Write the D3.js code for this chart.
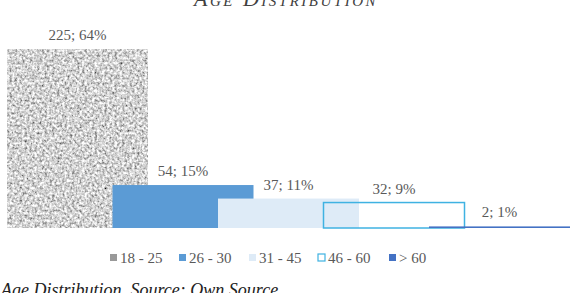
<!DOCTYPE html>
<html>
<head>
<meta charset="utf-8">
<script src="https://cdn.jsdelivr.net/npm/d3@7"></script>
<style>
    body { margin: 0; background: #fff; }
    svg { display: block; }
    text { font-family: "Liberation Serif", "DejaVu Serif", serif; fill: #595959; }
</style>
</head>
<body>
<div id="chart"></div>
<script>
// Chart data
const categories = ['18 - 25', '26 - 30', '31 - 45', '46 - 60', '> 60'];
const counts = [225, 54, 37, 32, 2];
const percents = [64, 15, 11, 9, 1];
const fills = ['#a9a9a9', '#5b9bd5', '#deebf7', 'none', '#4472c4'];
const strokes = ['none', 'none', 'none', '#3fb2e2', 'none'];

const width = 570, height = 293;
const margin = {top: 49, right: 0, bottom: 65, left: 7};
const plotH = height - margin.top - margin.bottom;

const svg = d3.select('#chart')
    .append('svg')
    .attr('width', width)
    .attr('height', height);

// Granite texture for the first bar
const defs = svg.append('defs');
const noise = defs.append('filter')
    .attr('id', 'gran')
    .attr('x', 0).attr('y', 0).attr('width', '100%').attr('height', '100%');
noise.append('feTurbulence')
    .attr('type', 'fractalNoise')
    .attr('baseFrequency', 0.4)
    .attr('numOctaves', 4)
    .attr('seed', 3)
    .attr('result', 't');
noise.append('feColorMatrix')
    .attr('in', 't')
    .attr('type', 'matrix')
    .attr('values', '1.5 0 0 0 -0.1  1.5 0 0 0 -0.1  1.5 0 0 0 -0.1  0 0 0 0 1');

// Scales
const x = d3.scaleBand()
    .domain(categories)
    .range([margin.left, margin.left + 105.5 * categories.length])
    .paddingInner(0)
    .paddingOuter(0);
const barW = 141;

const y = d3.scaleLinear()
    .domain([0, 225])
    .range([margin.top + plotH, margin.top]);

const g = svg.append('g');

g.selectAll('rect.bar')
    .data(categories)
    .enter()
    .append('rect')
    .attr('class', 'bar')
    .attr('x', d => x(d))
    .attr('y', (d, i) => y(counts[i]))
    .attr('width', barW)
    .attr('height', (d, i) => y(0) - y(counts[i]))
    .attr('fill', (d, i) => fills[i])
    .attr('filter', (d, i) => i === 0 ? 'url(#gran)' : null)
    .attr('stroke', (d, i) => strokes[i])
    .attr('stroke-width', 1.5);

// Data labels
g.selectAll('text.lbl')
    .data(categories)
    .enter()
    .append('text')
    .attr('class', 'lbl')
    .attr('x', d => x(d) + barW / 2)
    .attr('y', (d, i) => y(counts[i]) - 9)
    .attr('text-anchor', 'middle')
    .style('font-size', '15px')
    .text((d, i) => `${counts[i]}; ${percents[i]}%`);

// Title (cut off at the top)
svg.append('text')
    .attr('x', 286)
    .attr('y', 6)
    .attr('text-anchor', 'middle')
    .style('font-size', '22px')
    .style('font-style', 'italic')
    .style('font-variant', 'small-caps')
    .style('letter-spacing', '2.5px')
    .style('fill', '#404040')
    .text('Age Distribution');

// Legend
const legendX = [110, 179, 249, 318, 389];
const legend = svg.append('g');
categories.forEach((c, i) => {
    const item = legend.append('g').attr('transform', `translate(${legendX[i]},258)`);
    item.append('rect')
        .attr('x', 0).attr('y', -4)
        .attr('width', 7).attr('height', 7)
        .attr('fill', i === 0 ? '#999' : (i === 3 ? '#fff' : fills[i]))
        .attr('stroke', i === 3 ? strokes[3] : 'none')
        .attr('stroke-width', 1.2);
    item.append('text')
        .attr('x', 10).attr('y', 5)
        .style('font-size', '15px')
        .text(c);
});

// Caption (cut off at the bottom)
svg.append('text')
    .attr('x', 1)
    .attr('y', 296)
    .style('font-size', '18px')
    .style('font-style', 'italic')
    .style('fill', '#222')
    .text('Age Distribution. Source: Own Source');
</script>
</body>
</html>
